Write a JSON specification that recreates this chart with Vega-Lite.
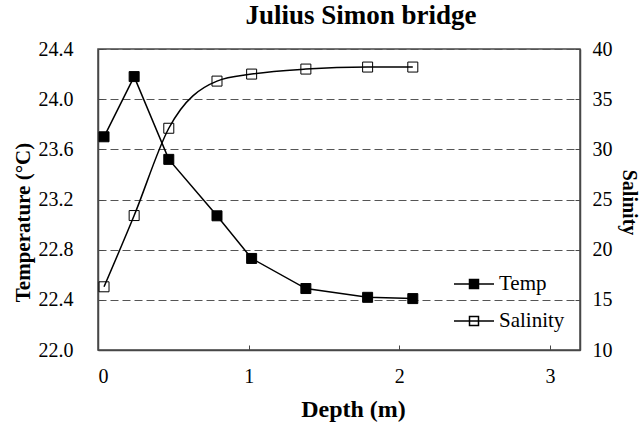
{
  "$schema": "https://vega.github.io/schema/vega-lite/v6.json",
  "width": 482,
  "height": 301,
  "autosize": {"type": "none"},
  "padding": {"left": 98, "top": 49, "right": 60, "bottom": 74},
  "background": "white",
  "config": {
    "font": "Liberation Serif",
    "view": {"stroke": "#474747", "strokeWidth": 1.5},
    "axis": {
      "labelFont": "Liberation Serif",
      "labelFontSize": 20,
      "labelColor": "black",
      "titleFont": "Liberation Serif",
      "titleFontSize": 21,
      "titleFontWeight": "bold",
      "titleColor": "black",
      "domainColor": "#474747",
      "domainWidth": 1.5,
      "tickColor": "#474747",
      "tickWidth": 1
    }
  },
  "title": {
    "text": "Julius Simon bridge",
    "font": "Liberation Serif",
    "fontSize": 27,
    "fontWeight": "bold",
    "color": "black",
    "anchor": "middle",
    "dx": 22,
    "offset": 9
  },
  "data": {
    "values": [
      {"depth": 0.04, "series": "Temp", "value": 23.70},
      {"depth": 0.24, "series": "Temp", "value": 24.18},
      {"depth": 0.47, "series": "Temp", "value": 23.52},
      {"depth": 0.79, "series": "Temp", "value": 23.07},
      {"depth": 1.02, "series": "Temp", "value": 22.73},
      {"depth": 1.38, "series": "Temp", "value": 22.49},
      {"depth": 1.79, "series": "Temp", "value": 22.42},
      {"depth": 2.09, "series": "Temp", "value": 22.41},
      {"depth": 0.04, "series": "Salinity", "value": 16.3},
      {"depth": 0.24, "series": "Salinity", "value": 23.4},
      {"depth": 0.47, "series": "Salinity", "value": 32.1},
      {"depth": 0.79, "series": "Salinity", "value": 36.8},
      {"depth": 1.02, "series": "Salinity", "value": 37.5},
      {"depth": 1.38, "series": "Salinity", "value": 38.0},
      {"depth": 1.79, "series": "Salinity", "value": 38.2},
      {"depth": 2.09, "series": "Salinity", "value": 38.2}
    ]
  },
  "encoding": {
    "x": {
      "field": "depth",
      "type": "quantitative",
      "scale": {"domain": [0, 3.2], "nice": false},
      "axis": {
        "values": [0, 1, 2, 3],
        "title": "Depth (m)",
        "titleFontSize": 24,
        "grid": false,
        "tickSize": -5,
        "labelPadding": 21,
        "titleX": 255,
        "titleY": 66,
        "titleAlign": "center",
        "titleBaseline": "alphabetic"
      }
    }
  },
  "layer": [
    {
      "transform": [{"filter": "datum.series === 'Temp'"}],
      "encoding": {
        "y": {
          "field": "value",
          "type": "quantitative",
          "scale": {"domain": [22, 24.4], "nice": false, "zero": false},
          "axis": {
            "orient": "left",
            "values": [22, 22.4, 22.8, 23.2, 23.6, 24, 24.4],
            "format": ".1f",
            "title": "Temperature (°C)",
            "grid": true,
            "gridDash": [8, 4],
            "gridColor": "#555555",
            "gridWidth": 1,
            "tickSize": -5,
            "labelPadding": 30,
            "titleX": -69,
            "titleY": 173,
            "titleAngle": -90,
            "titleAlign": "center",
            "titleBaseline": "alphabetic"
          }
        }
      },
      "layer": [
        {"mark": {"type": "line", "color": "black", "strokeWidth": 1.5}},
        {
          "mark": {"type": "point", "shape": "square", "filled": true, "size": 100, "stroke": "black", "strokeWidth": 1, "opacity": 1},
          "encoding": {
            "fill": {
              "field": "series",
              "type": "nominal",
              "scale": {"domain": ["Temp", "Salinity"], "range": ["black", "transparent"]},
              "legend": {
                "orient": "none",
                "legendX": 365,
                "legendY": 224,
                "title": null,
                "symbolType": "M-2,0L2,0M-0.45,-0.45L0.45,-0.45L0.45,0.45L-0.45,0.45Z",
                "symbolSize": 400,
                "symbolStrokeColor": "black",
                "symbolStrokeWidth": 1.5,
                "labelFont": "Liberation Serif",
                "labelFontSize": 21,
                "labelColor": "black",
                "labelOffset": 14,
                "rowPadding": 16
              }
            }
          }
        }
      ]
    },
    {
      "transform": [{"filter": "datum.series === 'Salinity'"}],
      "encoding": {
        "y": {
          "field": "value",
          "type": "quantitative",
          "scale": {"domain": [10, 40], "nice": false, "zero": false},
          "axis": {
            "orient": "right",
            "values": [10, 15, 20, 25, 30, 35, 40],
            "title": "Salinity",
            "titleFontSize": 20,
            "grid": false,
            "tickSize": -5,
            "labelPadding": 17,
            "titleX": 42,
            "titleY": 153,
            "titleAngle": 90,
            "titleAlign": "center",
            "titleBaseline": "alphabetic"
          }
        }
      },
      "layer": [
        {"mark": {"type": "line", "color": "black", "strokeWidth": 1.5, "interpolate": "monotone"}},
        {
          "mark": {"type": "point", "shape": "square", "filled": true, "size": 100, "stroke": "black", "strokeWidth": 1, "opacity": 1},
          "encoding": {
            "fill": {"field": "series", "type": "nominal"}
          }
        }
      ]
    }
  ],
  "resolve": {"scale": {"y": "independent"}}
}
